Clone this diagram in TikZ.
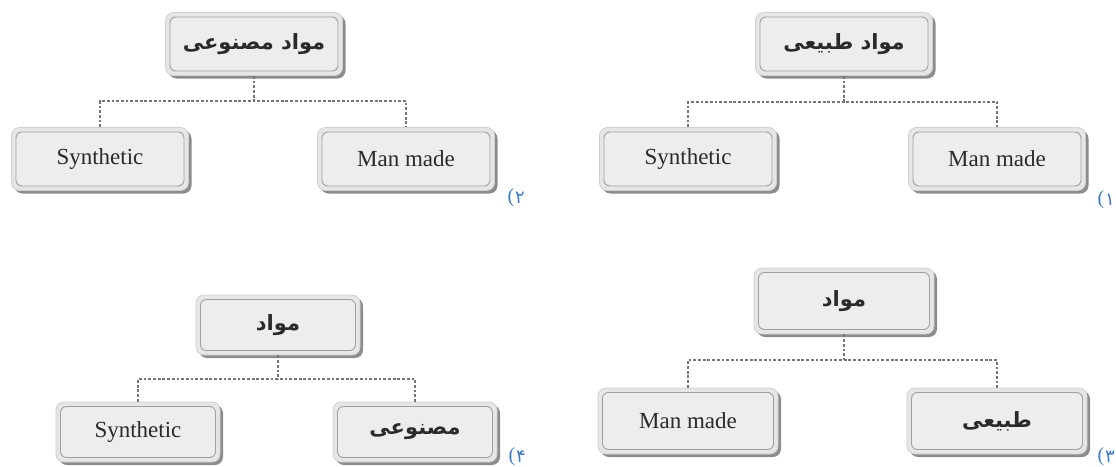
\documentclass[tikz,border=0pt]{standalone}
\usepackage{fontspec}
\setmainfont{Liberation Serif}
\newfontfamily\arabicfont[Script=Arabic]{DejaVu Sans}
\TeXXeTstate=1
\usetikzlibrary{shadows}
\definecolor{rimc}{HTML}{E6E6E7}
\definecolor{rimline}{HTML}{D0D0D0}
\definecolor{fillc}{HTML}{EDEDEE}
\definecolor{innerline}{HTML}{A0A0A0}
\definecolor{shadowc}{HTML}{8C8C8C}
\definecolor{connc}{HTML}{767676}
\definecolor{txtc}{HTML}{2A2A2A}
\definecolor{labc}{HTML}{3D7BC4}
\tikzset{
  bx/.style 2 args={rounded corners=8pt, fill=rimc, draw=rimline, line width=0.8pt,
    minimum width=#1pt, minimum height=#2pt, inner sep=0pt,
    drop shadow={shadow xshift=3pt, shadow yshift=-3pt, fill=shadowc, opacity=1}},
  inbx/.style 2 args={rounded corners=6pt, fill=fillc, draw=innerline, line width=0.9pt,
    minimum width=#1pt-9pt, minimum height=#2pt-9pt, inner sep=0pt, text=txtc},
  lat/.style={font=\fontsize{23}{26}\selectfont},
  arb/.style={font=\arabicfont\bfseries\fontsize{21}{24}\selectfont},
  conn/.style={draw=connc, line width=2.6pt, dash pattern=on 2.8pt off 1.9pt},
  lab/.style={font=\fontsize{20}{22}\selectfont, text=labc, inner sep=0pt},
  dig/.style={font=\arabicfont\fontsize{18}{20}\selectfont, text=labc, inner sep=0pt}
}
\begin{document}
\begin{tikzpicture}[x=1pt,y=-1pt]
\useasboundingbox (0,0) rectangle (1116,466);
% group 2
\node[bx={177}{63}] (t2) at (254,44) {};
\node[inbx={177}{63}, arb] (t2i) at (t2) {\beginR مواد مصنوعی\endR};
\node[bx={177}{63}] (a2) at (100,159) {};
\node[inbx={177}{63}, lat] (a2i) at (a2) {Synthetic};
\node[bx={177}{63}] (b2) at (406,159) {};
\node[inbx={177}{63}, lat] (b2i) at (b2) {Man made};
\coordinate (m2) at (254,101);
\draw[conn] (t2.south) -- (m2);
\draw[conn] (a2.north) |- (m2) -| (b2.north);
\node[lab] (l2p) at (511,198) {(};
\node[dig] (l2) at (l2p.east) [anchor=west, xshift=0.5pt] {۲};
% group 1
\node[bx={177}{63}] (t1) at (844,44) {};
\node[inbx={177}{63}, arb] (t1i) at (t1) {\beginR مواد طبیعی\endR};
\node[bx={177}{63}] (a1) at (688,159) {};
\node[inbx={177}{63}, lat] (a1i) at (a1) {Synthetic};
\node[bx={177}{63}] (b1) at (997,159) {};
\node[inbx={177}{63}, lat] (b1i) at (b1) {Man made};
\coordinate (m1) at (844,102);
\draw[conn] (t1.south) -- (m1);
\draw[conn] (a1.north) |- (m1) -| (b1.north);
\node[lab] (l1p) at (1101,200) {(};
\node[dig] (l1) at (l1p.east) [anchor=west, xshift=0.5pt] {۱};
% group 3
\node[bx={180}{66}] (t3) at (844,301) {};
\node[inbx={180}{66}, arb] (t3i) at (t3) {\beginR مواد\endR};
\node[bx={180}{66}] (a3) at (688,421) {};
\node[inbx={180}{66}, lat] (a3i) at (a3) {Man made};
\node[bx={180}{66}] (b3) at (997,421) {};
\node[inbx={180}{66}, arb] (b3i) at (b3) {\beginR طبیعی\endR};
\coordinate (m3) at (844,360);
\draw[conn] (t3.south) -- (m3);
\draw[conn] (a3.north) |- (m3) -| (b3.north);
\node[lab] (l3p) at (1101,457) {(};
\node[dig] (l3) at (l3p.east) [anchor=west, xshift=0.5pt] {۳};
% group 4
\node[bx={164}{60}] (t4) at (278,325) {};
\node[inbx={164}{60}, arb] (t4i) at (t4) {\beginR مواد\endR};
\node[bx={164}{60}] (a4) at (138,432) {};
\node[inbx={164}{60}, lat] (a4i) at (a4) {Synthetic};
\node[bx={164}{60}] (b4) at (415,432) {};
\node[inbx={164}{60}, arb] (b4i) at (b4) {\beginR مصنوعی\endR};
\coordinate (m4) at (278,379);
\draw[conn] (t4.south) -- (m4);
\draw[conn] (a4.north) |- (m4) -| (b4.north);
\node[lab] (l4p) at (512,457) {(};
\node[dig] (l4) at (l4p.east) [anchor=west, xshift=0.5pt] {۴};
\end{tikzpicture}
\end{document}
